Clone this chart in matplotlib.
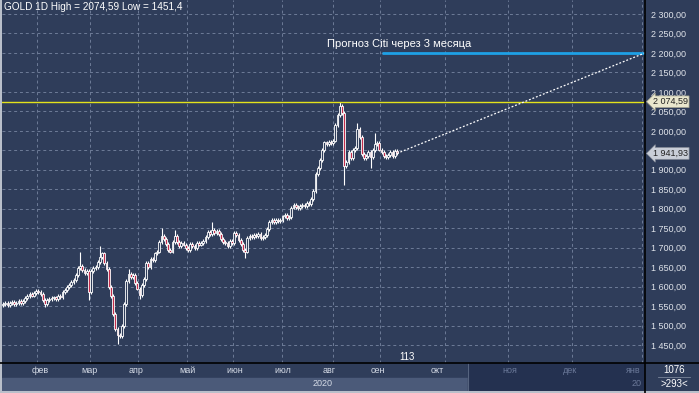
import matplotlib
matplotlib.use("Agg")
import matplotlib.pyplot as plt
from matplotlib.patches import Rectangle
from matplotlib.transforms import blended_transform_factory
import numpy as np

plt.rcParams['font.family'] = ['Liberation Sans', 'DejaVu Sans']

# ---------------- data ----------------
close = [
    1555, 1558, 1553, 1557, 1560, 1556, 1559, 1562, 1558, 1563,
    1570, 1575, 1580, 1577, 1583, 1588, 1585, 1580, 1565, 1555,
    1565, 1568, 1570, 1572, 1568, 1575, 1573, 1585, 1592, 1598,
    1603, 1612, 1618, 1630, 1648, 1652, 1642, 1635, 1640, 1585,
    1640, 1648, 1650, 1662, 1675, 1685, 1660, 1645, 1600, 1575,
    1530, 1490, 1475, 1472, 1498, 1555, 1615, 1632, 1625, 1630,
    1610, 1595, 1578, 1605, 1620, 1660, 1650, 1670, 1668, 1685,
    1690, 1715, 1730, 1722, 1710, 1695, 1690, 1715, 1730, 1715,
    1705, 1712, 1708, 1700, 1695, 1710, 1705, 1700, 1712, 1708,
    1712, 1718, 1728, 1740, 1735, 1745, 1738, 1742, 1735, 1722,
    1715, 1712, 1705, 1718, 1712, 1738, 1732, 1720, 1710, 1695,
    1690, 1725, 1730, 1728, 1733, 1730, 1735, 1725, 1728, 1732,
    1748, 1765, 1770, 1766, 1772, 1768, 1770, 1780, 1785, 1776,
    1778, 1803, 1810, 1805, 1802, 1808, 1810, 1808, 1815, 1812,
    1825, 1845, 1890, 1905, 1925, 1950, 1970, 1965, 1972, 1968,
    1975, 2015, 2040, 2065, 2045, 1910, 1920, 1945, 1930, 1950,
    1955, 2005, 1985, 1940, 1930, 1935, 1945, 1932, 1950, 1965,
    1968, 1952, 1945, 1935, 1932, 1938, 1945, 1935, 1948, 1941.93,
]
first_open = 1552
high_marks = {16: 1593, 35: 1690, 44: 1705, 57: 1645, 72: 1750, 78: 1745,
              95: 1765, 153: 2074.59, 161: 2020, 169: 1995}
low_marks = {19: 1548, 39: 1566, 52: 1451.4, 62: 1568, 110: 1673,
             155: 1862, 167: 1905}
WICK = 5

period_high = 2074.59
last_price = 1941.93
forecast_price = 2200.0
forecast_start_bar = 172
forecast_label = "Прогноз Citi через 3 месяца"
title = "GOLD 1D High = 2074,59 Low = 1451,4"

months = ["фев", "мар", "апр", "май", "июн", "июл", "авг", "сен",
          "окт", "ноя", "дек", "янв"]
month_grid = [15.4, 39.7, 61.5, 83.7, 104.6, 126.9, 150.1, 171.5,
              201.0, 229.6, 258.7, 290.5]
month_label_pos = [16.8, 39.5, 60.4, 83.7, 105.5, 127.3, 148.2, 170.4,
                   197.2, 230.4, 257.7, 286.2]
future_start = 211.3
year_label = "2020"
price_ticks = list(range(1450, 2301, 50))

# ---------------- style ----------------
BG = "#2f3d5a"
GRID = "#6d7b97"
FRAME = "#b9bfca"
W, H = 699, 393
fig = plt.figure(figsize=(W / 100, H / 100), dpi=100, facecolor=BG)

ax_l, ax_r_px, ax_bot_px = 2, 645, 363
ax = fig.add_axes([ax_l / W, (H - ax_bot_px) / H, (ax_r_px - ax_l) / W, ax_bot_px / H])
ax.set_facecolor(BG)
px_per_bar = 2.2
xmin = -0.5
xmax = xmin + (ax_r_px - ax_l) / px_per_bar
ax.set_xlim(xmin, xmax)
ax.set_ylim(1403.8, 2335.9)

# grid
for p in price_ticks:
    ax.axhline(p, color=GRID, lw=0.7, ls=(0, (3, 3)), zorder=0)
for m in month_grid:
    ax.axvline(m, color=GRID, lw=0.7, ls=(0, (3, 3)), zorder=0)

# candles
n = len(close)
opens = [first_open] + close[:-1]
for i in range(n):
    o, c = opens[i], close[i]
    top, bot = max(o, c), min(o, c)
    hi = high_marks.get(i, top + WICK)
    lo = low_marks.get(i, bot - WICK)
    ax.vlines(i, lo, hi, color="white", lw=0.8, zorder=2)
    up = c >= o
    body_h = max(top - bot, 1.5)
    ax.add_patch(Rectangle((i - 0.45, bot), 0.9, body_h,
                           facecolor=BG if up else "#c42d4c",
                           edgecolor="white", lw=0.6, zorder=3))

# horizontal lines
ax.axhline(period_high, color="#e3e31c", lw=1.0, zorder=4)
ax.hlines(forecast_price, forecast_start_bar, xmax, color="#1ea0e6", lw=2.0, zorder=4)
ax.plot([n - 1, xmax], [last_price, forecast_price], color="white",
        lw=0.9, ls=(0, (1.5, 1.5)), zorder=4)
ax.text(147.0, forecast_price + 9, forecast_label, color="white",
        fontsize=8, ha="left", va="bottom", zorder=5)
ax.text(0.5, 2318, title, color="white", fontsize=7.2, ha="left", va="center")
ax.text(183.5, 1419, "113", color="white", fontsize=7, ha="center", va="center")

# right price axis
ax.yaxis.set_ticks_position("right")
ax.set_yticks(price_ticks)
ax.set_yticklabels([f"{p // 1000} {p % 1000:03d},00" for p in price_ticks])
ax.tick_params(axis="y", length=0, pad=4, labelsize=6.5, labelcolor="#dfe3ea")
ax.tick_params(axis="x", length=0, labelbottom=False)
for s in ax.spines.values():
    s.set_visible(False)

tr = blended_transform_factory(ax.transAxes, ax.transData)
def fmt(v):
    return f"{v:,.2f}".replace(",", " ").replace(".", ",")
ax.text(1.012, period_high, fmt(period_high), transform=tr, fontsize=6.5,
        color="#222222", ha="left", va="center", zorder=6, clip_on=False,
        bbox=dict(boxstyle="larrow,pad=0.15", fc="#e9e7cd", ec="#9a9a8a", lw=0.5))
ax.text(1.012, last_price, fmt(last_price), transform=tr, fontsize=6.5,
        color="#222222", ha="left", va="center", zorder=6, clip_on=False,
        bbox=dict(boxstyle="larrow,pad=0.15", fc="#c9ced8", ec="#8a909c", lw=0.5))

# bottom time strip
strip_h = 28
axb = fig.add_axes([ax_l / W, 2 / H, (ax_r_px - ax_l) / W, strip_h / H], sharex=ax)
axb.set_ylim(0, 2)
axb.set_facecolor(BG)
axb.axhspan(0, 0.95, color="#4b5a79", zorder=0)
axb.axvspan(future_start, xmax, color="#243150", zorder=1)
axb.axvline(future_start, color="#56647f", lw=0.8, zorder=2)
axb.axis("off")
for lab, xp in zip(months, month_label_pos):
    future = xp > future_start
    axb.text(xp, 1.45, lab, color="#6a7898" if future else "#d5dbe6",
             fontsize=6.5, ha="center", va="center", zorder=3, clip_on=True)
axb.text(145.0, 0.5, year_label, color="#d5dbe6", fontsize=6.5,
         ha="center", va="center", zorder=3)
axb.text(xmax - 1.5, 0.5, "20", color="#6a7898", fontsize=6.5,
         ha="right", va="center", zorder=3, clip_on=True)
axb.set_xlim(xmin, xmax)

# separators, frame, corner box
fig.add_artist(plt.Line2D([ax_r_px / W] * 2, [0, 1], color="black", lw=1.2))
fig.add_artist(plt.Line2D([0, 1], [(H - ax_bot_px) / H] * 2, color="black", lw=1.2))
fig.add_artist(Rectangle((0, 0), 2 / W, 1, transform=fig.transFigure,
                         fc=FRAME, ec="none"))
fig.add_artist(Rectangle((0, 0), 1, 2 / H, transform=fig.transFigure,
                         fc=FRAME, ec="none"))
fig.text(674 / W, 1 - 370 / H, "1076", color="white", fontsize=7, ha="center", va="center")
fig.text(674 / W, 1 - 384 / H, ">293<", color="white", fontsize=7, ha="center", va="center")
fig.add_artist(plt.Line2D([658 / W, 690 / W], [1 - 377 / H] * 2, color="#7a859a", lw=0.6))

fig.savefig("out.png", dpi=100, facecolor=BG)
